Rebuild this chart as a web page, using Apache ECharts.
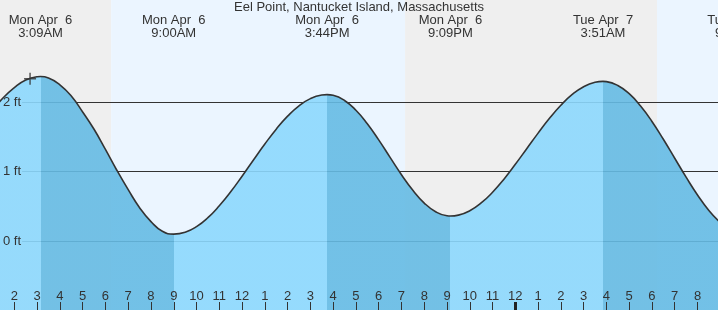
<!DOCTYPE html>
<html>
<head>
<meta charset="utf-8">
<script src="https://cdn.jsdelivr.net/npm/echarts@6/dist/echarts.min.js"></script>
<style>
html,body{margin:0;padding:0;background:#fff;}
#c{width:718px;height:310px;}
</style>
</head>
<body>
<div id="c"></div>
<script>
// ---- data (hours from midnight Mon Apr 6, heights in ft) ----
const titleText = 'Eel Point, Nantucket Island, Massachusetts';
const tideTimes = [1, 1.5, 2, 2.5, 3, 3.15, 3.5, 4, 4.5, 5, 5.5, 6, 6.5, 7, 7.5, 8, 8.5, 9,
  9.5, 10, 10.5, 11, 11.5, 12, 12.5, 13, 13.5, 14, 14.5, 15, 15.5, 15.733,
  16, 16.5, 17, 17.5, 18, 18.5, 19, 19.5, 20, 20.5, 21, 21.15,
  21.5, 22, 22.5, 23, 23.5, 24, 24.5, 25, 25.5, 26, 26.5, 27, 27.5, 27.85,
  28, 28.5, 29, 29.5, 30, 30.5, 31, 31.5, 32, 32.5, 33];
const tideFeet = [1.86, 2.06, 2.21, 2.32, 2.367, 2.37, 2.35, 2.25, 2.09, 1.86, 1.61, 1.32, 1.02, 0.74, 0.48, 0.28, 0.14, 0.10,
  0.127, 0.207, 0.336, 0.508, 0.709, 0.934, 1.168, 1.398, 1.612, 1.799, 1.949, 2.052, 2.104, 2.11,
  2.10, 2.025, 1.884, 1.69, 1.457, 1.205, 0.956, 0.731, 0.547, 0.422, 0.363, 0.36,
  0.373, 0.436, 0.548, 0.703, 0.891, 1.105, 1.33, 1.555, 1.768, 1.957, 2.112, 2.224, 2.287, 2.30,
  2.297, 2.242, 2.123, 1.946, 1.723, 1.466, 1.193, 0.92, 0.664, 0.44, 0.264];
const extremeTimes = [3.15, 9.0, 15.733, 21.15, 27.85, 33.75];
const extremeKinds = ['H', 'L', 'H', 'L', 'H', 'L'];
const extremeDays  = ['Mon Apr  6', 'Mon Apr  6', 'Mon Apr  6', 'Mon Apr  6', 'Tue Apr  7', 'Tue Apr  7'];
const extremeClock = ['3:09AM', '9:00AM', '3:44PM', '9:09PM', '3:51AM', '9:45AM'];
const nightDayEdges = [1.37, 6.25, 19.16, 30.22, 32.9];   // night, day, night, day
const hourTicks = [2,3,4,5,6,7,8,9,10,11,12,13,14,15,16,17,18,19,20,21,22,23,24,25,26,27,28,29,30,31,32];
const midnightTicks = [24];
const footLevels = [0, 1, 2];
const nowMark = [[2.69, 2.34]];

// ---- layout ----
const xMin = 1.37, xMax = 32.9;
const yMin = -0.994, yMax = 3.473;
const extraRight = 80;
const xMaxExt = xMax + extraRight * (xMax - xMin) / 718;
const lineStartX = 2.34;

const lightFill = '#8cd8fd', darkFill = '#65bbe4';

// rising/falling pieces
const pieces = [];
let prev = -100;
extremeTimes.forEach((t, i) => {
  pieces.push({gt: prev, lte: t, color: extremeKinds[i] === 'H' ? lightFill : darkFill});
  prev = t;
});
pieces.push({gt: prev, lte: 1000, color: extremeKinds[extremeKinds.length-1] === 'H' ? darkFill : lightFill});

const bands = [];
for (let i = 0; i < nightDayEdges.length - 1; i++) {
  bands.push([{xAxis: nightDayEdges[i], itemStyle: {color: i % 2 === 0 ? '#efefef' : '#ebf5ff'}}, {xAxis: nightDayEdges[i+1]}]);
}
const gridLines = footLevels.map(v => [{coord: [lineStartX, v]}, {coord: [xMax, v]}]);

const hourFmt = v => { const h = Math.round(v) % 12; return String(h === 0 ? 12 : h); };
const extremeFmt = v => {
  let best = 0;
  extremeTimes.forEach((t, i) => { if (Math.abs(t - v) < Math.abs(extremeTimes[best] - v)) best = i; });
  return extremeDays[best] + '\n' + extremeClock[best];
};

const font = '"Liberation Sans", Arial, sans-serif';
const chart = echarts.init(document.getElementById('c'), null, {renderer: 'canvas'});
chart.setOption({
  animation: false,
  backgroundColor: '#ffffff',
  title: {
    text: titleText, left: 'center', top: 1, padding: 0, z: 20,
    textStyle: {fontSize: 13, fontWeight: 'normal', color: '#333', fontFamily: font, lineHeight: 13}
  },
  grid: [
    {left: 0, right: 0, top: 0, bottom: 0, outerBoundsMode: 'none', containLabel: false},
    {left: 0, right: -extraRight, top: 0, bottom: 0, outerBoundsMode: 'none', containLabel: false}
  ],
  xAxis: [
    {
      type: 'value', gridIndex: 0, min: xMin, max: xMax, position: 'bottom', z: 20,
      axisLine: {show: false, onZero: false}, splitLine: {show: false},
      axisTick: {show: true, inside: true, length: 8, customValues: hourTicks, lineStyle: {color: '#333', width: 1}},
      axisLabel: {show: true, inside: true, margin: 7, customValues: hourTicks, formatter: hourFmt,
        color: '#333', fontSize: 13, fontFamily: font}
    },
    {
      type: 'value', gridIndex: 0, min: xMin, max: xMax, position: 'bottom', z: 21,
      axisLine: {show: false, onZero: false}, splitLine: {show: false},
      axisTick: {show: true, inside: true, length: 8, customValues: midnightTicks, lineStyle: {color: '#222', width: 3}},
      axisLabel: {show: false}
    },
    {
      type: 'value', gridIndex: 1, min: xMin, max: xMaxExt, position: 'top', z: 20,
      axisLine: {show: false, onZero: false}, splitLine: {show: false}, axisTick: {show: false},
      axisLabel: {show: true, inside: true, margin: 14, customValues: extremeTimes, formatter: extremeFmt,
        color: '#333', fontSize: 13, lineHeight: 13, fontFamily: font, align: 'center'}
    }
  ],
  yAxis: [
    {
      type: 'value', gridIndex: 0, min: yMin, max: yMax, position: 'left', z: 20,
      axisLine: {show: false, onZero: false}, splitLine: {show: false}, axisTick: {show: false},
      axisLabel: {show: true, inside: true, margin: 3, customValues: footLevels, formatter: '{value} ft',
        color: '#333', fontSize: 13, fontFamily: font}
    },
    {
      type: 'value', gridIndex: 1, min: yMin, max: yMax, show: false
    }
  ],
  visualMap: {
    type: 'piecewise', show: false, dimension: 0, seriesIndex: 2, pieces: pieces
  },
  series: [
    {
      type: 'line', xAxisIndex: 0, yAxisIndex: 0, data: [], z: 0, silent: true,
      markArea: {silent: true, z: 0, data: bands}
    },
    {
      type: 'line', xAxisIndex: 0, yAxisIndex: 0, data: [], z: 1, silent: true,
      markLine: {silent: true, z: 1, symbol: 'none', label: {show: false},
        lineStyle: {color: '#333', width: 1, type: 'solid'}, data: gridLines}
    },
    {
      type: 'line', xAxisIndex: 0, yAxisIndex: 0, z: 2, silent: true,
      data: tideTimes.map((t, i) => [t, tideFeet[i]]),
      smooth: 0.5, showSymbol: false, symbol: 'none',
      lineStyle: {width: 0, opacity: 0},
      areaStyle: {opacity: 0.9, origin: 'start'}
    },
    {
      type: 'line', xAxisIndex: 0, yAxisIndex: 0, z: 3, silent: true,
      data: tideTimes.map((t, i) => [t, tideFeet[i]]),
      smooth: 0.5, showSymbol: false, symbol: 'none',
      lineStyle: {width: 1.6, color: '#333'}
    },
    {
      type: 'scatter', xAxisIndex: 0, yAxisIndex: 0, z: 4, silent: true,
      data: nowMark, symbol: 'path://M0,5L10,5M5,0L5,10', symbolSize: 12,
      itemStyle: {color: 'none', borderColor: '#333', borderWidth: 1.5}
    }
  ]
});
</script>
</body>
</html>
